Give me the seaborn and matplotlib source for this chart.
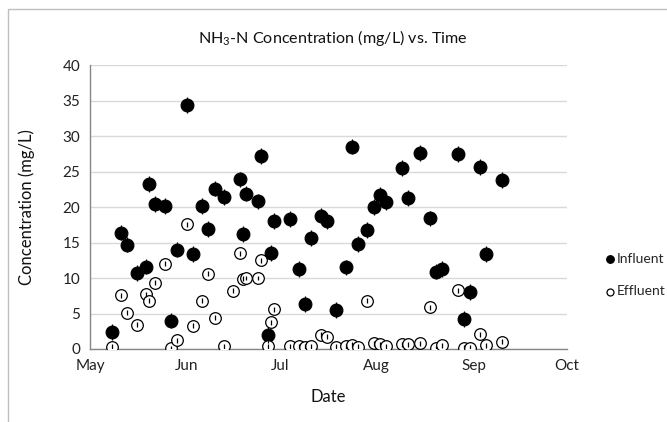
import matplotlib
matplotlib.use("Agg")
import matplotlib.pyplot as plt
import matplotlib.dates as mdates
from matplotlib.patches import Rectangle
import numpy as np
import pandas as pd
import seaborn as sns

# ---- data ----
dates = ["2014-05-08", "2014-05-11", "2014-05-13", "2014-05-16", "2014-05-19",
         "2014-05-20", "2014-05-22", "2014-05-25", "2014-05-27", "2014-05-29",
         "2014-06-01", "2014-06-03", "2014-06-06", "2014-06-08", "2014-06-10",
         "2014-06-13", "2014-06-16", "2014-06-18", "2014-06-19", "2014-06-20",
         "2014-06-24", "2014-06-25", "2014-06-27", "2014-06-28", "2014-06-29",
         "2014-07-04", "2014-07-07", "2014-07-09", "2014-07-11", "2014-07-14",
         "2014-07-16", "2014-07-19", "2014-07-22", "2014-07-24", "2014-07-26",
         "2014-07-29", "2014-07-31", "2014-08-02", "2014-08-04", "2014-08-09",
         "2014-08-11", "2014-08-15", "2014-08-18", "2014-08-20", "2014-08-22",
         "2014-08-27", "2014-08-29", "2014-08-31", "2014-09-03", "2014-09-05",
         "2014-09-10"]
influent = [2.4, 16.4, 14.7, 10.7, 11.6,
            23.2, 20.4, 20.1, 4.0, 14.0,
            34.4, 13.4, 20.1, 16.9, 22.6,
            21.4, np.nan, 23.9, 16.2, 21.9,
            20.8, 27.2, 2.0, 13.5, 18.0,
            18.3, 11.3, 6.3, 15.6, 18.8,
            18.0, 5.5, 11.5, 28.5, 14.8,
            16.8, 20.0, 21.7, 20.7, 25.5,
            21.3, 27.6, 18.4, 10.9, 11.3,
            27.5, 4.2, 8.0, 25.6, 13.4,
            23.8]
effluent = [0.3, 7.6, 5.1, 3.4, 7.7,
            6.8, 9.3, 12.0, 0.1, 1.2,
            17.6, 3.3, 6.8, 10.6, 4.4,
            0.4, 8.2, 13.5, 9.9, 10.0,
            10.0, 12.5, 0.4, 3.8, 5.6,
            0.4, 0.4, 0.3, 0.4, 2.0,
            1.7, 0.3, 0.4, 0.6, 0.3,
            6.8, 0.8, 0.7, 0.4, 0.7,
            0.7, 0.8, 5.9, 0.1, 0.5,
            8.3, 0.2, 0.2, 2.1, 0.5,
            1.0]
influent_err = 1.1
effluent_err = 0.35
series_names = ["Influent", "Effluent"]
x_ticks = ["2014-05-01", "2014-06-01", "2014-07-01", "2014-08-01", "2014-09-01", "2014-10-01"]
y_ticks = [0, 5, 10, 15, 20, 25, 30, 35, 40]

df = pd.DataFrame({"Date": pd.to_datetime(dates),
                   "Influent": influent, "Effluent": effluent})

sns.set_theme(style="white")
plt.rcParams["font.family"] = ["Lato", "DejaVu Sans"]
plt.rcParams["mathtext.fontset"] = "custom"
plt.rcParams["mathtext.rm"] = "Lato"
plt.rcParams["mathtext.it"] = "Lato:italic"
plt.rcParams["mathtext.bf"] = "Lato:bold"

fig = plt.figure(figsize=(6.67, 4.22), dpi=100)
ax = fig.add_axes([90 / 667, 1 - 349 / 422, 477 / 667, 284 / 422])

# chart-area border
fig.patches.append(Rectangle((8 / 667, -0.1), 1.2, 1 - 9 / 422 + 0.1,
                             transform=fig.transFigure, fill=False,
                             edgecolor="#bfbfbf", linewidth=1.0, zorder=0))

sns.scatterplot(data=df, x="Date", y="Influent", ax=ax, color="black",
                edgecolor="black", s=85, marker="o", label=series_names[0],
                zorder=3, linewidth=0.8)
sns.scatterplot(data=df, x="Date", y="Effluent", ax=ax, color="white",
                edgecolor="black", s=70, marker="o", label=series_names[1],
                zorder=4, linewidth=0.9)
ax.errorbar(df["Date"], df["Influent"], yerr=influent_err, fmt="none",
            ecolor="black", elinewidth=0.9, capsize=0, zorder=5)
ax.errorbar(df["Date"], df["Effluent"], yerr=effluent_err, fmt="none",
            ecolor="black", elinewidth=0.9, capsize=0, zorder=5)

xt = pd.to_datetime(x_ticks)
ax.set_xlim(xt[0], xt[-1])
ax.set_xticks(xt)
ax.xaxis.set_major_formatter(mdates.DateFormatter("%b"))
ax.set_ylim(0, 40)
ax.set_yticks(y_ticks)
ax.yaxis.grid(True, color="#d9d9d9", linewidth=1.0)
ax.set_axisbelow(True)
for s in ["top", "right"]:
    ax.spines[s].set_visible(False)
for s in ["left", "bottom"]:
    ax.spines[s].set_color("#868686")
    ax.spines[s].set_linewidth(1.0)
ax.tick_params(axis="both", which="major", direction="out", length=4,
               width=1.0, color="#868686", labelsize=11, labelcolor="#222222",
               pad=3)
ax.set_xlabel("Date", fontsize=12, color="#111111", labelpad=12)
ax.set_ylabel("Concentration (mg/L)", fontsize=12, color="#111111", labelpad=20)
fig.text(333 / 667, 1 - 38 / 422, "NH$_3$-N Concentration (mg/L) vs. Time",
         ha="center", va="center", fontsize=11.6, color="#111111")

leg = ax.legend(loc="center left", bbox_to_anchor=(597 / 667, 1 - 275 / 422),
                bbox_transform=fig.transFigure, frameon=False, fontsize=10,
                handletextpad=0.0, labelspacing=1.5, markerscale=0.6,
                borderaxespad=0, handlelength=1.0)

fig.savefig("out.png", dpi=100)
